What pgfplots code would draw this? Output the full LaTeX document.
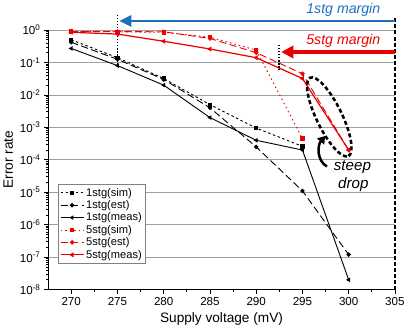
\documentclass[border=0pt]{standalone}
\usepackage{pgfplots}
\pgfplotsset{compat=1.18}
\usepackage{fontspec}
\setmainfont{Liberation Sans}
\usetikzlibrary{arrows.meta,shapes.geometric}
\definecolor{myblue}{RGB}{30,110,190}
\definecolor{myred}{RGB}{235,0,0}
\begin{document}
\begin{tikzpicture}
\begin{axis}[
  scale only axis, width=342bp, height=256bp,
  xmin=267.5, xmax=305,
  ymode=log, log basis y=10, ymin=1e-8, ymax=1,
  axis x line*=bottom, axis y line*=left,
  axis line style={line width=0.9bp},
  xtick={270,275,...,305}, minor x tick num=1,
  ytickten={-8,...,0},
  minor ytick={2e-8,3e-8,4e-8,5e-8,6e-8,7e-8,8e-8,9e-8,
    2e-7,3e-7,4e-7,5e-7,6e-7,7e-7,8e-7,9e-7,
    2e-6,3e-6,4e-6,5e-6,6e-6,7e-6,8e-6,9e-6,
    2e-5,3e-5,4e-5,5e-5,6e-5,7e-5,8e-5,9e-5,
    2e-4,3e-4,4e-4,5e-4,6e-4,7e-4,8e-4,9e-4,
    2e-3,3e-3,4e-3,5e-3,6e-3,7e-3,8e-3,9e-3,
    2e-2,3e-2,4e-2,5e-2,6e-2,7e-2,8e-2,9e-2,
    2e-1,3e-1,4e-1,5e-1,6e-1,7e-1,8e-1,9e-1},
  yticklabel={\pgfmathtruncatemacro\ee{round(\tick)}10\textsuperscript{\ee}},
  /pgf/number format/assume math mode=true,
  tick label style={font=\fontsize{11.5}{13}\selectfont},
  label style={font=\fontsize{13.5}{16}\selectfont},
  xlabel={Supply voltage (mV)}, ylabel={Error rate},
  ymajorgrids, grid style={gray!75, line width=0.8bp},
  tick align=outside, major tick length=4bp, minor tick length=2bp,
  tick style={black, line width=0.8bp},
  clip=false,
  legend style={at={(0.029,0.406)}, anchor=north west, draw=gray, line width=0.6bp,
    font=\fontsize{11}{12}\selectfont, row sep=-1.2bp, inner sep=1.5bp, cells={anchor=west}},
  legend image code/.code={\draw[mark repeat=2,mark phase=2] plot coordinates {(0cm,0cm)(0.4cm,0cm)(0.8cm,0cm)};},
  every axis plot/.append style={line width=0.9bp, mark size=1.7bp},
]
\addplot[black, dash pattern=on 2.5bp off 2.5bp, mark=square*, mark options={solid}]
  coordinates {(270,0.5)(275,0.14)(280,0.032)(285,0.005)(290,0.00095)(295,0.00026)};
\addlegendentry{1stg(sim)}
\addplot[black, dash pattern=on 7bp off 3.5bp, mark=*, mark options={solid}]
  coordinates {(270,0.42)(275,0.125)(280,0.03)(285,0.004)(290,0.00025)(295,1.1e-5)(300,1.2e-7)};
\addlegendentry{1stg(est)}
\addplot[black, solid, mark=triangle*, mark options={solid, rotate=90}]
  coordinates {(270,0.27)(275,0.08)(280,0.02)(285,0.002)(290,0.0004)(295,0.0002)(300,2e-8)};
\addlegendentry{1stg(meas)}
\addplot[myred, dash pattern=on 1.5bp off 3bp, mark=square*, mark options={solid}]
  coordinates {(270,0.9)(275,0.88)(280,0.85)(285,0.6)(290,0.24)(295,0.00045)};
\addlegendentry{5stg(sim)}
\addplot[myred, dash pattern=on 7bp off 3.5bp, mark=*, mark options={solid}]
  coordinates {(270,0.9)(275,0.9)(280,0.88)(285,0.55)(290,0.2)(295,0.045)(300,0.0002)};
\addlegendentry{5stg(est)}
\addplot[myred, solid, line width=1.2bp, mark=triangle*, mark options={solid, rotate=90}]
  coordinates {(270,0.85)(275,0.75)(280,0.45)(285,0.26)(290,0.14)(295,0.032)(300,0.0002)};
\addlegendentry{5stg(meas)}
% annotations
\draw[black, line width=2.5bp, dash pattern=on 4bp off 2bp] (axis cs:305,2.3) -- (axis cs:305,1e-8);
\draw[black, line width=1.8bp, dash pattern=on 1.5bp off 1.5bp] (axis cs:275,3.0) -- (axis cs:275,0.07);
\draw[black, line width=1.8bp, dash pattern=on 1.5bp off 1.5bp] (axis cs:292.5,0.35) -- (axis cs:292.5,0.062);
\draw[myblue, line width=2.5bp, -{Triangle[length=12bp,width=11bp]}] (axis cs:305,1.9) -- (axis cs:275.2,1.9);
\draw[myred, line width=3.5bp, -{Triangle[length=12bp,width=12bp]}] (axis cs:305,0.21) -- (axis cs:292.7,0.21);
\node[anchor=base east, myblue, font=\fontsize{14}{17}\selectfont\itshape] at (axis cs:303.8,3.2) {1stg margin};
\node[anchor=base east, myred, font=\fontsize{14}{17}\selectfont\itshape] at (axis cs:303.8,0.37) {5stg margin};
\node[ellipse, draw=black, dash pattern=on 4bp off 2.5bp, line width=2.5bp, minimum width=86bp, minimum height=25bp, inner sep=0pt, rotate=-64] at (axis cs:297.9,0.0021) {};
\draw[black, line width=2.5bp, -{Triangle[length=7bp,width=9bp]}] (axis cs:297.65,6.2e-5) to[out=150,in=230] (axis cs:297.45,5.4e-4);
\node[anchor=base, font=\fontsize{15}{18}\selectfont\itshape] at (axis cs:300.4,4.6e-5) {steep};
\node[anchor=base, font=\fontsize{15}{18}\selectfont\itshape] at (axis cs:300.5,1.3e-5) {drop};
\end{axis}
\end{tikzpicture}
\end{document}
